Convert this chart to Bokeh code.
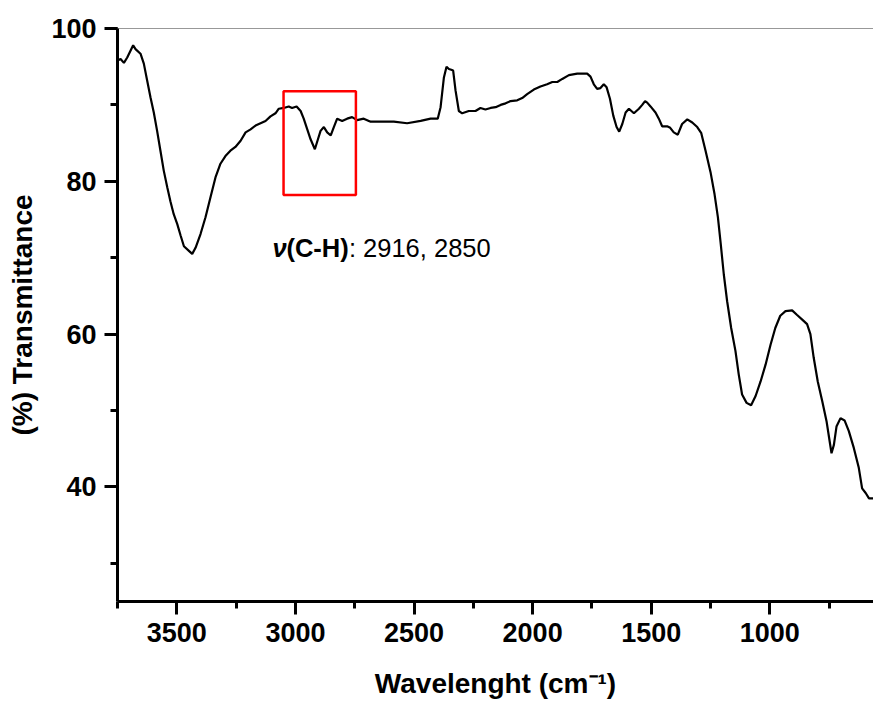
from bokeh.plotting import figure
from bokeh.models import Range1d, SingleIntervalTicker, Span, Label
from bokeh.embed import file_html
from bokeh.resources import INLINE

# FTIR spectrum
wavenumber = [
    3750, 3737, 3723, 3709, 3684, 3674, 3653, 3639, 3625, 3611,
    3597, 3583, 3569, 3555, 3540, 3527, 3513, 3498, 3484, 3470,
    3449, 3435, 3421, 3400, 3379, 3358, 3337, 3316, 3295, 3274,
    3253, 3231, 3210, 3189, 3168, 3147, 3126, 3105, 3084, 3070,
    3049, 3028, 3014, 2995, 2978, 2965, 2950, 2936, 2918, 2905,
    2894, 2880, 2866, 2851, 2838, 2824, 2803, 2782, 2761, 2740,
    2712, 2683, 2641, 2585, 2529, 2472, 2430, 2400, 2388, 2374,
    2363, 2353, 2343, 2335, 2325, 2311, 2297, 2269, 2241, 2220,
    2199, 2177, 2156, 2135, 2114, 2093, 2065, 2044, 2023, 1995,
    1967, 1939, 1917, 1896, 1875, 1847, 1812, 1770, 1756, 1742,
    1728, 1714, 1700, 1688, 1674, 1660, 1646, 1635, 1622, 1608,
    1594, 1573, 1552, 1538, 1526, 1517, 1503, 1482, 1468, 1454,
    1433, 1420, 1405, 1388, 1370, 1348, 1327, 1306, 1289, 1271,
    1250, 1233, 1219, 1207, 1194, 1180, 1163, 1145, 1131, 1117,
    1098, 1079, 1060, 1039, 1018, 997, 977, 956, 934, 906,
    885, 860, 843, 829, 815, 798, 779, 761, 750, 740,
    730, 719, 702, 685, 667, 646, 625, 611, 596, 582,
    563,
]
transmittance = [
    95.8, 96.0, 95.5, 96.2, 97.8, 97.3, 96.7, 95.4, 93.2, 91.0,
    89.0, 86.6, 84.0, 81.4, 79.2, 77.4, 75.7, 74.4, 72.9, 71.5,
    70.9, 70.5, 71.3, 73.1, 75.3, 77.9, 80.5, 82.3, 83.3, 84.0,
    84.5, 85.3, 86.4, 86.8, 87.3, 87.6, 87.9, 88.5, 88.9, 89.5,
    89.6, 89.8, 89.6, 89.8, 89.2, 88.2, 86.8, 85.5, 84.2, 85.5,
    86.6, 87.1, 86.4, 86.0, 87.1, 88.2, 87.9, 88.2, 88.4, 88.0,
    88.2, 87.8, 87.8, 87.8, 87.6, 87.9, 88.2, 88.2, 89.7, 93.6,
    95.0, 94.7, 94.6, 94.5, 91.9, 89.2, 88.9, 89.2, 89.2, 89.6,
    89.4, 89.6, 89.7, 90.0, 90.2, 90.5, 90.6, 90.9, 91.4, 92.0,
    92.4, 92.7, 93.0, 93.0, 93.4, 93.9, 94.1, 94.1, 93.7, 92.7,
    92.1, 92.2, 92.7, 92.3, 90.8, 88.6, 87.1, 86.5, 87.5, 89.0,
    89.5, 88.9, 89.5, 90.0, 90.5, 90.3, 89.8, 89.0, 88.2, 87.2,
    87.2, 87.0, 86.4, 86.1, 87.5, 88.1, 87.7, 87.1, 86.3, 84.0,
    81.2, 78.3, 75.3, 71.8, 67.8, 64.3, 60.8, 57.8, 54.7, 52.1,
    51.0, 50.7, 51.9, 53.8, 56.0, 58.6, 60.8, 62.4, 63.0, 63.1,
    62.5, 61.8, 61.3, 60.0, 56.9, 53.8, 51.2, 48.6, 46.4, 44.4,
    45.5, 47.9, 49.0, 48.7, 47.3, 45.1, 42.5, 39.8, 39.2, 38.5,
    38.5,
]

# axis extents
x_start, x_end = 3750, 563
y_start, y_end = 25, 100

# highlighted C-H region and its caption
box_left, box_right, box_bottom, box_top = 3050, 2745, 78.2, 91.8
caption_x, caption_y = 3097, 71.3
caption_parts = ["\u03bd", "(C-H)", ": 2916, 2850"]

FONT = "Liberation Sans"

p = figure(width=873, height=708,
           x_range=Range1d(x_start, x_end), y_range=Range1d(y_start, y_end),
           output_backend="svg", toolbar_location=None,
           min_border_left=117, min_border_right=0,
           min_border_top=28, min_border_bottom=107)

p.background_fill_color = "white"
p.border_fill_color = "white"
p.outline_line_color = None
p.grid.visible = False

p.xaxis.ticker = SingleIntervalTicker(interval=500, num_minor_ticks=2)
p.yaxis.ticker = SingleIntervalTicker(interval=20, num_minor_ticks=2)
p.xaxis.axis_label = "Wavelenght (cm\u207b\u00b9)"
p.yaxis.axis_label = "(%) Transmittance"

for ax in (p.xaxis[0], p.yaxis[0]):
    ax.axis_line_width = 3
    ax.axis_line_color = "black"
    ax.major_tick_line_width = 3
    ax.minor_tick_line_width = 3
    ax.major_tick_line_color = "black"
    ax.minor_tick_line_color = "black"
    ax.major_tick_in = 0
    ax.major_tick_out = 13
    ax.minor_tick_in = 0
    ax.minor_tick_out = 7
    ax.major_label_text_font = FONT
    ax.major_label_text_font_style = "bold"
    ax.major_label_text_font_size = "27px"
    ax.major_label_text_color = "black"
    ax.major_label_standoff = 8
    ax.axis_label_text_font = FONT
    ax.axis_label_text_font_style = "bold"
    ax.axis_label_text_font_size = "28px"
    ax.axis_label_text_color = "black"
    ax.axis_label_standoff = 10

p.xaxis[0].axis_label_standoff = 23

# thin top frame line
p.add_layout(Span(location=y_end, dimension="width", line_color="#333333", line_width=1))

# spectrum
p.line(wavenumber, transmittance, line_color="black", line_width=2.2)

# red highlight box
p.quad(left=[box_left], right=[box_right], bottom=[box_bottom], top=[box_top],
       fill_color=None, line_color="red", line_width=2.5)

# caption with mixed styles
styles = ["bold italic", "bold", "normal"]
offsets = [0, 14, 76.5]
for txt, st, off in zip(caption_parts, styles, offsets):
    p.add_layout(Label(x=caption_x, y=caption_y, x_offset=off, text=txt,
                       text_font=FONT, text_font_style=st, text_font_size="25.5px",
                       text_color="black", text_baseline="alphabetic", text_align="left"))

open("out.html", "w").write(file_html(p, INLINE))
